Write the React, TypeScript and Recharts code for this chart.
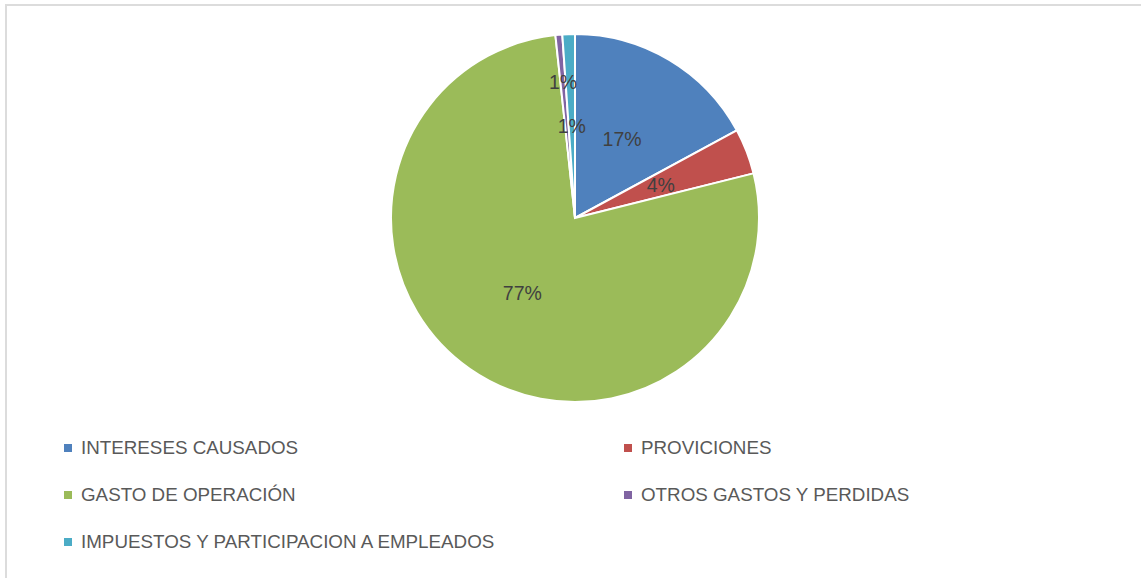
import { PieChart, Pie, Cell, Legend } from "recharts";

const categories = [
  "INTERESES CAUSADOS",
  "PROVICIONES",
  "GASTO DE OPERACIÓN",
  "OTROS GASTOS Y PERDIDAS",
  "IMPUESTOS Y PARTICIPACION A EMPLEADOS",
];
const shares = [17.1, 4.0, 77.2, 0.6, 1.1];
const colors = ["#4f81bd", "#c0504d", "#9bbb59", "#8064a2", "#4bacc6"];

const data = categories.map((name, i) => ({ name, value: shares[i] }));
const total = shares.reduce((a, b) => a + b, 0);

const FONT = "'Liberation Sans', Arial, sans-serif";
const RAD = Math.PI / 180;

const renderLabel = (props: any) => {
  const { cx, cy, midAngle, outerRadius, value, index } = props;
  const r = outerRadius * (index === 3 ? 0.74 : 0.5);
  const x = cx + r * Math.cos(-midAngle * RAD);
  const y = cy + r * Math.sin(-midAngle * RAD);
  return (
    <text x={x} y={y} fill="#404040" fontSize={19.5} fontFamily={FONT} textAnchor="middle" dominantBaseline="central">
      {Math.round((value / total) * 100)}%
    </text>
  );
};

// legend keeps the series order (recharts would sort the payload by name)
const renderLegend = () => (
  <div
    style={{
      display: "grid",
      gridTemplateColumns: "560px 440px",
      rowGap: 24,
      fontFamily: FONT,
      fontSize: 18.8,
      color: "#595959",
    }}
  >
    {categories.map((name, i) => (
      <div key={name} style={{ display: "flex", alignItems: "center", height: 23, whiteSpace: "nowrap" }}>
        <span style={{ width: 8, height: 8, background: colors[i], marginRight: 9, display: "inline-block" }} />
        <span>{name}</span>
      </div>
    ))}
  </div>
);

export default function App() {
  return (
    <div
      style={{
        position: "absolute",
        left: 5,
        top: 4,
        width: 1140,
        height: 580,
        border: "2px solid #dcdcdc",
        background: "#fff",
      }}
    >
      <PieChart width={1140} height={580} margin={{ top: 0, right: 0, bottom: 0, left: 0 }}>
        <Pie
          data={data}
          dataKey="value"
          nameKey="name"
          cx={568}
          cy={212}
          outerRadius={184}
          startAngle={90}
          endAngle={-270}
          stroke="#fff"
          strokeWidth={2}
          label={renderLabel}
          labelLine={false}
          isAnimationActive={false}
        >
          {data.map((d, i) => (
            <Cell key={d.name} fill={colors[i]} />
          ))}
        </Pie>
        <Legend
          content={renderLegend}
          wrapperStyle={{ position: "absolute", left: 57, top: 430, width: 1000 }}
        />
      </PieChart>
    </div>
  );
}
